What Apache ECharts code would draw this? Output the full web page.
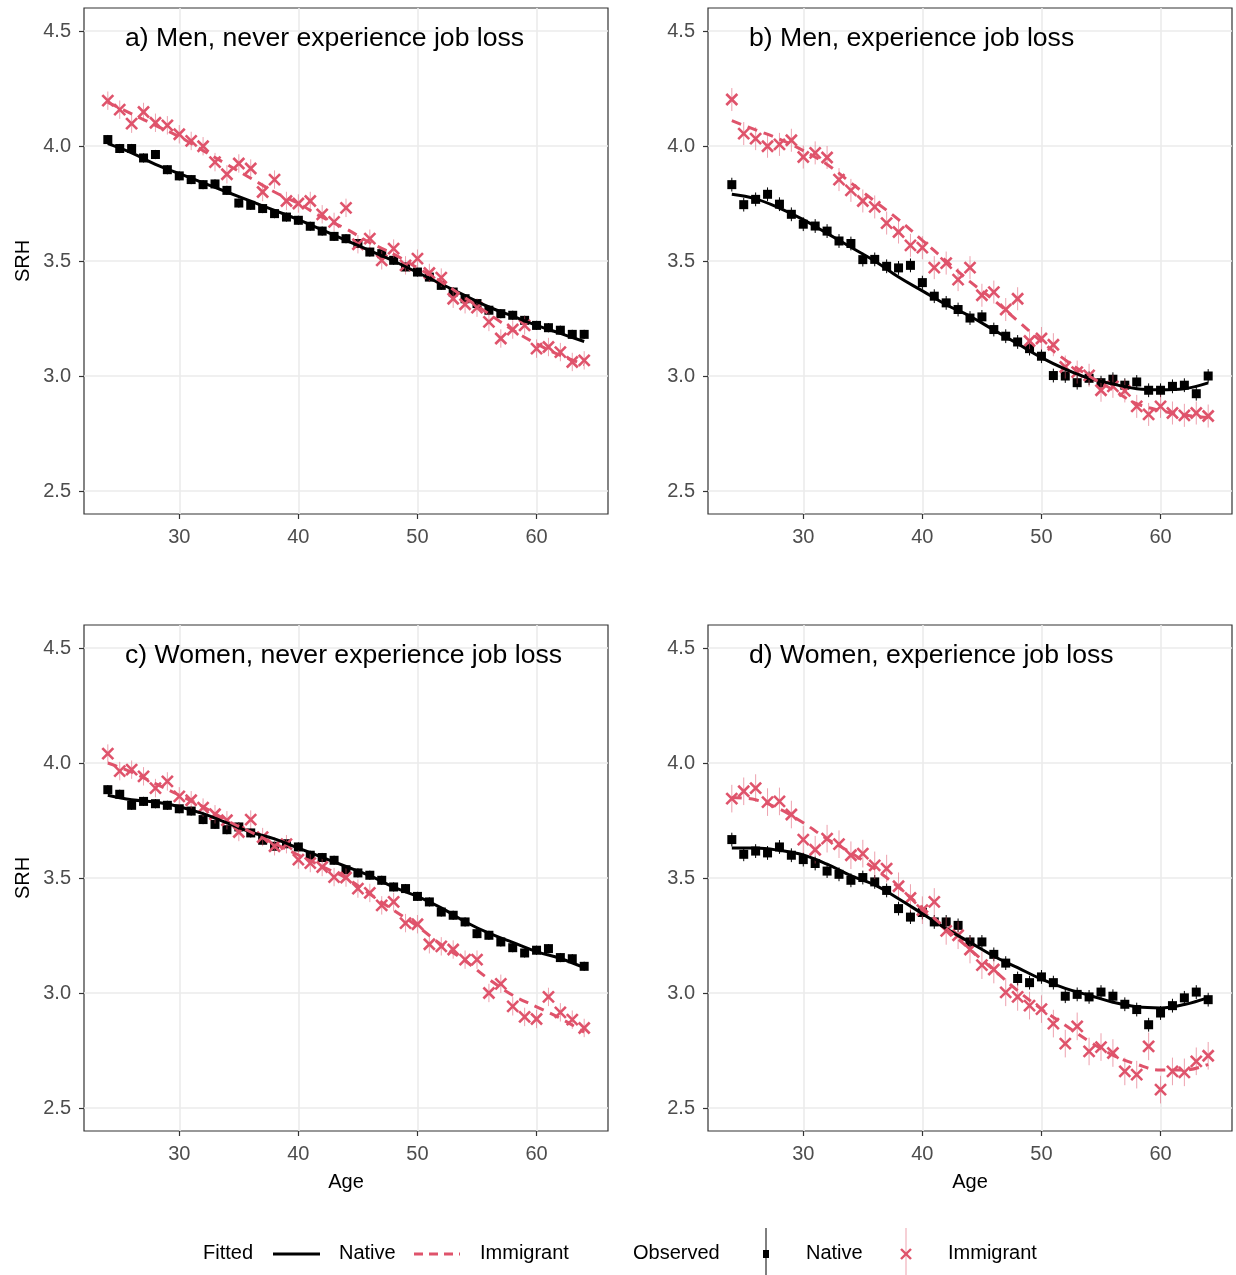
<!DOCTYPE html>
<html><head><meta charset="utf-8">
<script src="https://cdn.jsdelivr.net/npm/echarts@6/dist/echarts.min.js"></script>
<style>html,body{margin:0;padding:0;background:#fff}#c{width:1236px;height:1275px}</style>
</head><body><div id="c"></div><script>
const ages = [24,25,26,27,28,29,30,31,32,33,34,35,36,37,38,39,40,41,42,43,44,45,46,47,48,49,50,51,52,53,54,55,56,57,58,59,60,61,62,63,64];
const fitAges = [24,26,28,30,32,34,36,38,40,42,44,46,48,50,52,54,56,58,60,62,64];
const xTicks = [30,40,50,60];
const yTicks = [2.5,3.0,3.5,4.0,4.5];
const panelTitles = ['a) Men, never experience job loss','b) Men, experience job loss','c) Women, never experience job loss','d) Women, experience job loss'];

// Panel a
const nativeObsA = [4.028,3.989,3.989,3.948,3.963,3.897,3.870,3.854,3.832,3.835,3.807,3.752,3.742,3.728,3.706,3.691,3.677,3.651,3.630,3.607,3.597,3.576,3.539,3.532,3.503,3.474,3.452,3.430,3.394,3.365,3.336,3.315,3.286,3.271,3.264,3.242,3.220,3.210,3.199,3.181,3.181];
const immigrantObsA = [4.197,4.158,4.097,4.148,4.101,4.090,4.051,4.022,3.999,3.930,3.877,3.924,3.902,3.800,3.854,3.761,3.750,3.761,3.703,3.670,3.731,3.573,3.597,3.503,3.554,3.481,3.510,3.448,3.428,3.336,3.312,3.297,3.235,3.163,3.202,3.220,3.119,3.126,3.104,3.061,3.068];
const nativeFitA = [4.01,3.97,3.92,3.88,3.84,3.80,3.76,3.72,3.68,3.635,3.59,3.545,3.50,3.45,3.40,3.35,3.30,3.26,3.22,3.185,3.15];
const immigrantFitA = [4.19,4.14,4.09,4.04,3.98,3.92,3.86,3.80,3.75,3.69,3.64,3.58,3.53,3.47,3.41,3.34,3.27,3.20,3.14,3.09,3.05];
// Panel b
const nativeObsB = [3.832,3.745,3.768,3.790,3.747,3.703,3.660,3.652,3.630,3.587,3.576,3.506,3.507,3.477,3.470,3.481,3.406,3.347,3.318,3.289,3.252,3.257,3.202,3.173,3.148,3.119,3.086,3.002,3.00,2.971,2.99,2.971,2.986,2.960,2.974,2.938,2.938,2.955,2.960,2.923,3.000];
const immigrantObsB = [4.202,4.054,4.032,3.999,4.007,4.025,3.952,3.970,3.950,3.854,3.807,3.761,3.735,3.665,3.626,3.568,3.558,3.471,3.491,3.419,3.471,3.351,3.365,3.289,3.336,3.152,3.163,3.136,3.039,3.017,3.003,2.938,2.955,2.935,2.868,2.833,2.868,2.839,2.829,2.839,2.826];
const nativeFitB = [3.79,3.77,3.73,3.68,3.62,3.56,3.50,3.43,3.37,3.31,3.26,3.20,3.14,3.08,3.03,2.99,2.965,2.945,2.94,2.945,2.97];
const immigrantFitB = [4.11,4.07,4.03,3.98,3.92,3.84,3.76,3.68,3.59,3.50,3.41,3.33,3.24,3.15,3.07,3.00,2.94,2.88,2.85,2.83,2.82];
// Panel c
const nativeObsC = [3.884,3.864,3.816,3.833,3.823,3.816,3.801,3.791,3.754,3.733,3.710,3.722,3.696,3.664,3.638,3.649,3.635,3.599,3.589,3.577,3.536,3.522,3.512,3.490,3.461,3.454,3.420,3.396,3.352,3.338,3.309,3.258,3.251,3.222,3.197,3.174,3.186,3.193,3.154,3.149,3.116];
const immigrantObsC = [4.041,3.965,3.971,3.942,3.891,3.920,3.855,3.838,3.806,3.777,3.751,3.700,3.754,3.678,3.638,3.647,3.580,3.565,3.548,3.504,3.502,3.454,3.435,3.381,3.396,3.304,3.299,3.212,3.203,3.189,3.145,3.145,3.000,3.040,2.942,2.896,2.887,2.983,2.916,2.884,2.848];
const nativeFitC = [3.86,3.84,3.83,3.81,3.78,3.74,3.70,3.67,3.63,3.59,3.55,3.51,3.46,3.42,3.37,3.31,3.26,3.22,3.18,3.15,3.11];
const immigrantFitC = [4.00,3.96,3.91,3.86,3.81,3.75,3.70,3.65,3.60,3.55,3.50,3.43,3.36,3.29,3.21,3.14,3.06,2.99,2.94,2.89,2.83];
// Panel d
const nativeObsD = [3.667,3.603,3.617,3.609,3.635,3.599,3.580,3.563,3.530,3.516,3.490,3.502,3.483,3.446,3.367,3.330,3.35,3.309,3.309,3.294,3.222,3.222,3.168,3.130,3.063,3.045,3.070,3.045,2.986,2.994,2.983,3.004,2.986,2.951,2.928,2.862,2.913,2.945,2.979,3.004,2.971];
const immigrantObsD = [3.845,3.877,3.891,3.830,3.833,3.776,3.667,3.623,3.671,3.647,3.599,3.606,3.555,3.541,3.464,3.413,3.360,3.396,3.270,3.251,3.189,3.121,3.102,3.003,2.983,2.945,2.930,2.867,2.780,2.855,2.746,2.765,2.739,2.659,2.645,2.768,2.580,2.659,2.655,2.703,2.727];
const nativeFitD = [3.63,3.63,3.62,3.60,3.56,3.51,3.47,3.41,3.345,3.28,3.22,3.16,3.11,3.06,3.02,2.99,2.96,2.94,2.935,2.95,2.98];
const immigrantFitD = [3.85,3.84,3.80,3.74,3.67,3.61,3.54,3.46,3.37,3.28,3.19,3.10,3.01,2.93,2.86,2.79,2.73,2.69,2.665,2.665,2.69];
// approximate error-bar half widths per panel
const nativeErr = [0.02,0.03,0.02,0.03];
const immigrantErr = [0.04,0.05,0.04,0.06];

const RED = '#DF536B';
const FONT = '"Liberation Sans", Arial, sans-serif';
const panels = [
  {nat:nativeObsA, imm:immigrantObsA, natFit:nativeFitA, immFit:immigrantFitA},
  {nat:nativeObsB, imm:immigrantObsB, natFit:nativeFitB, immFit:immigrantFitB},
  {nat:nativeObsC, imm:immigrantObsC, natFit:nativeFitC, immFit:immigrantFitC},
  {nat:nativeObsD, imm:immigrantObsD, natFit:nativeFitD, immFit:immigrantFitD}
];
const gridPos = [
  {left:84, top:8}, {left:708, top:8}, {left:84, top:625}, {left:708, top:625}
];

const grids = [], xAxes = [], yAxes = [], series = [], titles = [];
panels.forEach((p, i) => {
  grids.push({left:gridPos[i].left, top:gridPos[i].top, width:524, height:506,
    show:true, borderColor:'#333333', borderWidth:1.2, backgroundColor:'#fff', containLabel:false});
  xAxes.push({gridIndex:i, type:'value', min:22, max:66,
    axisLine:{show:false},
    axisTick:{show:true, length:5, customValues:xTicks, lineStyle:{color:'#333', width:1.2}},
    axisLabel:{customValues:xTicks, color:'#4D4D4D', fontSize:20, fontFamily:FONT, margin:13},
    splitLine:{show:true, lineStyle:{color:'#EBEBEB', width:1.6}},
    name: i >= 2 ? 'Age' : '', nameLocation:'middle', nameGap:41,
    nameTextStyle:{color:'#000', fontSize:20, fontFamily:FONT}
  });
  yAxes.push({gridIndex:i, type:'value', min:2.4, max:4.6,
    axisLine:{show:false},
    axisTick:{show:true, length:5, customValues:yTicks, lineStyle:{color:'#333', width:1.2}},
    axisLabel:{customValues:yTicks, color:'#4D4D4D', fontSize:20, fontFamily:FONT, margin:13,
      formatter: v => Number(v).toFixed(1)},
    splitLine:{show:true, lineStyle:{color:'#EBEBEB', width:1.6}},
    name: (i % 2 === 0) ? 'SRH' : '', nameLocation:'middle', nameGap:51, nameRotate:90,
    nameTextStyle:{color:'#000', fontSize:20, fontFamily:FONT}
  });
  titles.push({text:panelTitles[i], left:gridPos[i].left + 41, top:gridPos[i].top + 17, padding:0,
    textStyle:{fontSize:26.6, fontWeight:'normal', color:'#000', fontFamily:FONT}});

  series.push({type:'custom', xAxisIndex:i, yAxisIndex:i, z:3,
    data: ages.map((a,k) => [a, p.nat[k], nativeErr[i]]),
    renderItem: (params, api) => {
      const x = api.value(0), y = api.value(1), e = api.value(2);
      const c = api.coord([x, y]), t = api.coord([x, y + e]), b = api.coord([x, y - e]);
      return {type:'group', children:[
        {type:'line', shape:{x1:c[0], y1:t[1], x2:c[0], y2:b[1]}, style:{stroke:'#000', lineWidth:1}},
        {type:'rect', shape:{x:c[0]-4.5, y:c[1]-4.5, width:9, height:9}, style:{fill:'#000'}}
      ]};
    }
  });
  series.push({type:'custom', xAxisIndex:i, yAxisIndex:i, z:3,
    data: ages.map((a,k) => [a, p.imm[k], immigrantErr[i]]),
    renderItem: (params, api) => {
      const x = api.value(0), y = api.value(1), e = api.value(2);
      const c = api.coord([x, y]), t = api.coord([x, y + e]), b = api.coord([x, y - e]);
      const s = 5.5;
      return {type:'group', children:[
        {type:'line', shape:{x1:c[0], y1:t[1], x2:c[0], y2:b[1]}, style:{stroke:'rgba(223,83,107,0.55)', lineWidth:1}},
        {type:'line', shape:{x1:c[0]-s, y1:c[1]-s, x2:c[0]+s, y2:c[1]+s}, style:{stroke:RED, lineWidth:2.6}},
        {type:'line', shape:{x1:c[0]-s, y1:c[1]+s, x2:c[0]+s, y2:c[1]-s}, style:{stroke:RED, lineWidth:2.6}}
      ]};
    }
  });
  series.push({type:'line', xAxisIndex:i, yAxisIndex:i, z:4, smooth:0.4, showSymbol:false, symbol:'none',
    data: fitAges.map((a,k) => [a, p.natFit[k]]),
    lineStyle:{color:'#000', width:3}});
  series.push({type:'line', xAxisIndex:i, yAxisIndex:i, z:4, smooth:0.4, showSymbol:false, symbol:'none',
    data: fitAges.map((a,k) => [a, p.immFit[k]]),
    lineStyle:{color:RED, width:3, type:[10,7]}});
});

const LY = 1254;
const txt = (x, s) => ({type:'text', left:x, top:LY-11, style:{text:s, fontSize:20, fontFamily:FONT, fill:'#000'}});
const graphic = [
  txt(203,'Fitted'),
  {type:'line', shape:{x1:273, y1:LY, x2:320, y2:LY}, style:{stroke:'#000', lineWidth:3}},
  txt(339,'Native'),
  {type:'line', shape:{x1:414, y1:LY, x2:460, y2:LY}, style:{stroke:RED, lineWidth:3, lineDash:[9,6]}},
  txt(480,'Immigrant'),
  txt(633,'Observed'),
  {type:'line', shape:{x1:766, y1:1228, x2:766, y2:1275}, style:{stroke:'#000', lineWidth:1}},
  {type:'rect', shape:{x:763, y:LY-4, width:6, height:8}, style:{fill:'#000'}},
  txt(806,'Native'),
  {type:'line', shape:{x1:906, y1:1228, x2:906, y2:1275}, style:{stroke:'rgba(223,83,107,0.55)', lineWidth:1}},
  {type:'line', shape:{x1:901, y1:LY-5, x2:911, y2:LY+5}, style:{stroke:RED, lineWidth:2.4}},
  {type:'line', shape:{x1:901, y1:LY+5, x2:911, y2:LY-5}, style:{stroke:RED, lineWidth:2.4}},
  txt(948,'Immigrant')
];

const chart = echarts.init(document.getElementById('c'), null, {renderer:'canvas'});
chart.setOption({
  animation:false,
  backgroundColor:'#fff',
  title: titles,
  grid: grids, xAxis: xAxes, yAxis: yAxes, series: series,
  graphic: graphic
});
</script></body></html>
